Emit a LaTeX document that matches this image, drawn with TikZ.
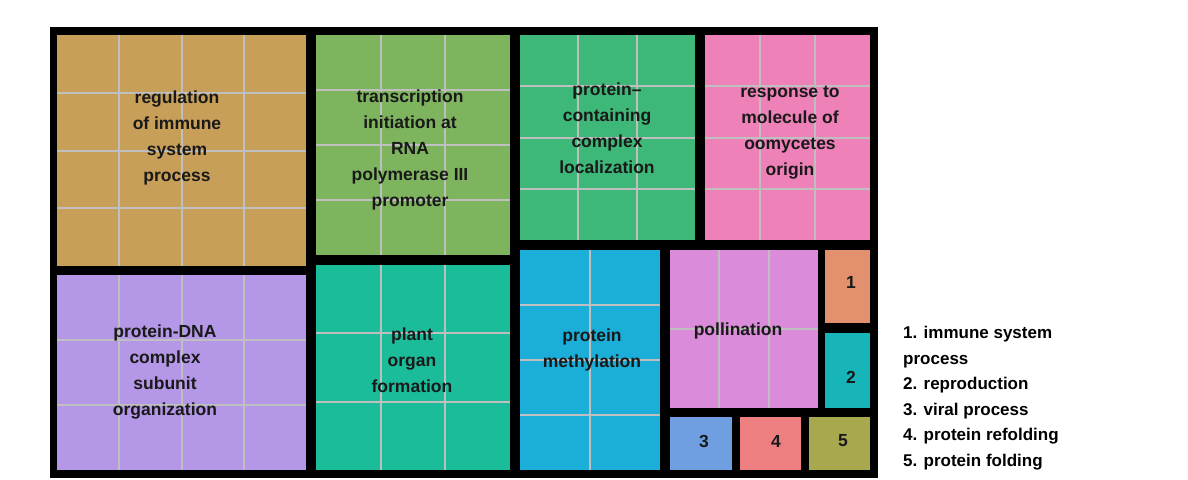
\documentclass[tikz,border=0pt]{standalone}
\usepackage{fontspec}
\setmainfont{Liberation Sans}
\usetikzlibrary{positioning}
\definecolor{cbrown}{HTML}{C89F58}
\definecolor{cgreen}{HTML}{7EB45E}
\definecolor{cjade}{HTML}{3DB878}
\definecolor{cpink}{HTML}{EE82B8}
\definecolor{clilac}{HTML}{B497E6}
\definecolor{cteal}{HTML}{1ABC9A}
\definecolor{cblue}{HTML}{1AAED8}
\definecolor{corchid}{HTML}{DA8BDA}
\definecolor{csalmon}{HTML}{E2906E}
\definecolor{ccyan}{HTML}{18B5B8}
\definecolor{cslate}{HTML}{6F9FE0}
\definecolor{crose}{HTML}{EE7F80}
\definecolor{colive}{HTML}{A8A84E}
\tikzset{
  tile/.style={draw=none},
  cell/.style={draw=black!25, line width=2pt},
  lab/.style={font=\fontsize{17.5}{26}\selectfont\bfseries, align=center, text=black!90},
  leg/.style={font=\fontsize{17}{25.5}\selectfont\bfseries, align=left, anchor=north west, inner sep=0pt}
}
% tile: name, x1, y1, x2, y2, colour, cells across, cells down
\newcommand{\tmtile}[8]{%
  \fill[#6] (#2,#3) rectangle (#4,#5);
  \foreach \i in {1,...,#7}{\pgfmathsetmacro{\xx}{#2+(#4-#2)*\i/(#7+1)}
    \draw[cell] (\xx,#3) -- (\xx,#5);}
  \foreach \j in {1,...,#8}{\pgfmathsetmacro{\yy}{#3+(#5-#3)*\j/(#8+1)}
    \draw[cell] (#2,\yy) -- (#4,\yy);}
  \coordinate (#1) at ({(#2+#4)/2},{(#3+#5)/2});
}
\begin{document}
\begin{tikzpicture}[x=1pt,y=-1pt]
	\useasboundingbox (0,0) rectangle (1188,479);
	%The frame
	\fill[black] (50,27) rectangle (878,478);
	
	%The upper row
	\tmtile{immune}{57}{35}{306}{266}{cbrown}{3}{3}
	\tmtile{transc}{316}{35}{510}{255}{cgreen}{2}{3}
	\tmtile{complex}{520}{35}{695}{240}{cjade}{2}{3}
	\tmtile{oomy}{705}{35}{870}{240}{cpink}{2}{3}
	
	%The lower row
	\tmtile{dna}{57}{275}{306}{470}{clilac}{3}{2}
	\tmtile{organ}{316}{265}{510}{470}{cteal}{2}{2}
	\tmtile{methyl}{520}{250}{660}{470}{cblue}{1}{3}
	\tmtile{poll}{670}{250}{818}{408}{corchid}{2}{1}
	\fill[csalmon] (825,250) rectangle (870,323) coordinate (c1);
	\fill[ccyan] (825,333) rectangle (870,408) coordinate (c2);
	\fill[cslate] (670,417) rectangle (732,470) coordinate (c3);
	\fill[crose] (740,417) rectangle (801,470) coordinate (c4);
	\fill[colive] (809,417) rectangle (870,470) coordinate (c5);
	
	%The labels
	\node[lab] at (177,138) {regulation\\of immune\\system\\process};
	\node[lab] at (410,150) {transcription\\initiation at\\RNA\\polymerase III\\promoter};
	\node[lab] at (607,128) {protein--\\containing\\complex\\localization};
	\node[lab] at (790,133) {response to\\molecule of\\oomycetes\\origin};
	\node[lab] at (165,372) {protein-DNA\\complex\\subunit\\organization};
	\node[lab] at (412,360) {plant\\organ\\formation};
	\node[lab] at (592,350) {protein\\methylation};
	\node[lab] at (738,331) {pollination};
	\node[lab] at (851,282) {1};
	\node[lab] at (851,377) {2};
	\node[lab] at (704,441) {3};
	\node[lab] at (776,441) {4};
	\node[lab] at (843,441) {5};
	
	%The legend
	\node[leg] (legend) at (903,326) {1. immune system\\process\\2. reproduction\\3. viral process\\4. protein refolding\\5. protein folding};
\end{tikzpicture}
\end{document}
